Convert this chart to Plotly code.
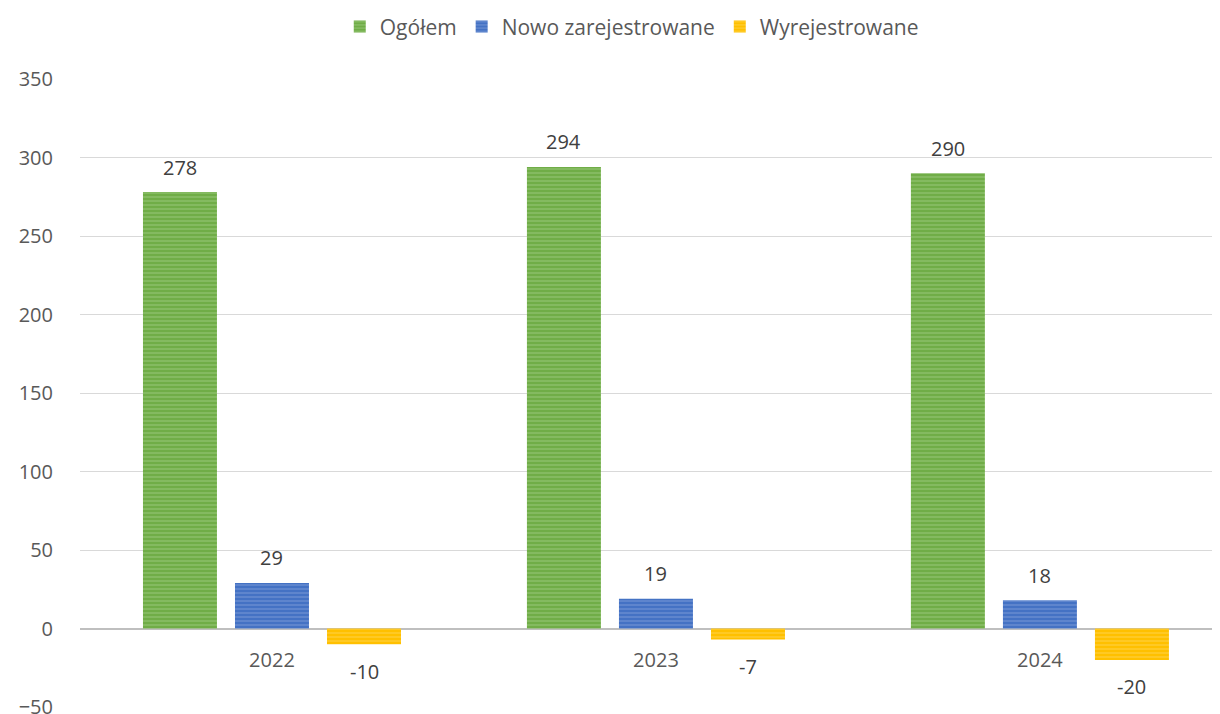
import plotly.graph_objects as go

years = ["2022", "2023", "2024"]
ogolem = [278, 294, 290]
nowo = [29, 19, 18]
wyrej = [-10, -7, -20]

series = [
    ("Ogółem", ogolem, "#70AD47", "#A9D08E"),
    ("Nowo zarejestrowane", nowo, "#4472C4", "#8EA9DB"),
    ("Wyrejestrowane", wyrej, "#FFC000", "#FFD966"),
]

FONT = "Open Sans, Noto Sans, sans-serif"
TXT = "#595959"

# the page body adds an 8px margin, so the figure is made 8px smaller
W, H = 1212, 706
M_L, M_R, M_T, M_B = 72, 0, 71, 7
X_RANGE = [-0.5, 2.469]
BARGAP = 0.281
px_per_cat = (W - M_L - M_R) / (X_RANGE[1] - X_RANGE[0])
slot_px = px_per_cat * (1 - BARGAP) / len(series)

fig = go.Figure()
for i, (name, vals, col, light) in enumerate(series):
    fig.add_trace(
        go.Bar(
            x=years,
            y=vals,
            name=name,
            marker=dict(
                color=col,
                line=dict(width=0),
                pattern=dict(shape="-", fgcolor=light, bgcolor=col, size=4, solidity=0.35),
            ),
            hoverinfo="x+y+name",
        )
    )
    # value labels, Excel-style offset from the bar end
    for j, v in enumerate(vals):
        fig.add_annotation(
            x=j, y=v,
            text=str(v),
            showarrow=False,
            xshift=(i - 1) * slot_px,
            yshift=25 if v >= 0 else -27,
            yanchor="middle",
            font=dict(size=20, color="#404040", family=FONT),
        )

fig.update_layout(
    width=W,
    height=H,
    barmode="group",
    bargap=BARGAP,
    bargroupgap=0.196,
    plot_bgcolor="white",
    paper_bgcolor="white",
    font=dict(family=FONT, size=20, color=TXT),
    margin=dict(l=M_L, r=M_R, t=M_T, b=M_B, autoexpand=False),
    legend=dict(
        orientation="h",
        x=0.484, xanchor="center",
        y=1.083, yanchor="middle",
        font=dict(size=21, color=TXT),
        itemwidth=30,
        traceorder="normal",
    ),
    xaxis=dict(
        type="category",
        range=X_RANGE,
        anchor="free",
        position=0.125,
        showgrid=False,
        showline=False,
        ticks="outside",
        ticklen=13,
        tickcolor="rgba(0,0,0,0)",
        tickfont=dict(size=20, color=TXT),
    ),
    yaxis=dict(
        range=[-50, 350],
        dtick=50,
        showgrid=True,
        gridcolor="#D9D9D9",
        gridwidth=1,
        zeroline=True,
        zerolinecolor="#BFBFBF",
        zerolinewidth=2,
        ticks="outside",
        ticklen=22,
        tickcolor="rgba(0,0,0,0)",
        tickfont=dict(size=20, color=TXT),
        ticklabeloverflow="allow",
    ),
)

fig.write_html("out.html")
